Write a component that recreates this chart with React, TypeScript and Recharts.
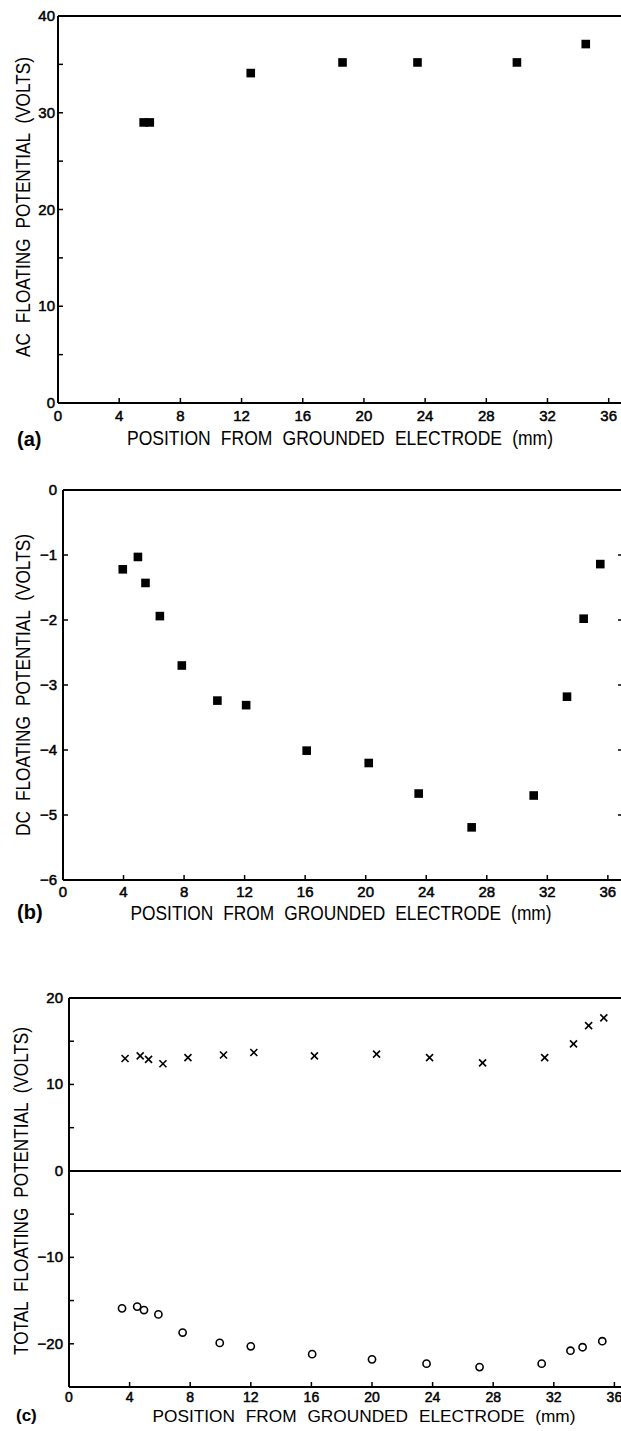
import React from 'react';
import { ScatterChart, Scatter, XAxis, YAxis, ReferenceLine, Label } from 'recharts';

// ---------- shared tick values ----------
const xTicks = [0, 4, 8, 12, 16, 20, 24, 28, 32, 36];

// ---------- panel (a): AC floating potential ----------
const acPos = [5.6, 6.0, 12.6, 18.6, 23.5, 30.0, 34.5];
const acVolts = [29.0, 29.0, 34.1, 35.2, 35.2, 35.2, 37.1];
const acTicks = [0, 5, 10, 15, 20, 25, 30, 35, 40];
const acLabels = [0, 10, 20, 30, 40];

// ---------- panel (b): DC floating potential ----------
const dcPos = [3.95, 4.95, 5.45, 6.4, 7.85, 10.2, 12.1, 16.1, 20.2, 23.5, 27.0, 31.1, 33.3, 34.4, 35.5];
const dcVolts = [-1.22, -1.03, -1.43, -1.94, -2.7, -3.24, -3.31, -4.01, -4.2, -4.67, -5.19, -4.7, -3.18, -1.98, -1.14];
const dcTicks = [-6, -5, -4, -3, -2, -1, 0];
const dcLabels = [-6, -5, -4, -3, -2, -1, 0];
const dcRightTicks = [-5, -4, -3, -2, -1];

// ---------- panel (c): total floating potential ----------
const crossPos = [3.7, 4.7, 5.25, 6.2, 7.85, 10.2, 12.2, 16.2, 20.3, 23.8, 27.3, 31.4, 33.3, 34.3, 35.3];
const crossVolts = [13.0, 13.3, 12.9, 12.4, 13.1, 13.4, 13.7, 13.3, 13.5, 13.1, 12.5, 13.1, 14.7, 16.8, 17.7];
const circlePos = [3.5, 4.5, 4.95, 5.9, 7.5, 9.95, 12.0, 16.05, 20.0, 23.6, 27.1, 31.2, 33.1, 33.9, 35.2];
const circleVolts = [-15.9, -15.7, -16.1, -16.6, -18.7, -19.9, -20.3, -21.2, -21.8, -22.3, -22.7, -22.3, -20.8, -20.4, -19.7];
const totTicks = [-25, -20, -15, -10, -5, 0, 5, 10, 15, 20];
const totLabels = [-20, -10, 0, 10, 20];

const xTitle = 'POSITION FROM GROUNDED ELECTRODE (mm)';

const zip = (xs: number[], ys: number[]) => xs.map((x, i) => ({ x, y: ys[i] }));
const acData = zip(acPos, acVolts);
const dcData = zip(dcPos, dcVolts);
const crossData = zip(crossPos, crossVolts);
const circleData = zip(circlePos, circleVolts);

const FONT = '"Liberation Sans", Arial, sans-serif';
const fmt = (v: number) => (v < 0 ? '\u2212' + Math.abs(v) : String(v));

const tickText = (size: number) => ({ fontFamily: FONT, fontSize: size, fill: '#000', stroke: '#000', strokeWidth: 0.5 });
const titleText = (size: number) => ({ fontFamily: FONT, fontSize: size, fill: '#000', wordSpacing: '6px' }) as React.CSSProperties;

// ---------- custom ticks ----------
const bottomTick = (len: number, base: number, size = 15) => (p: any) => (
  <g>
    <line x1={p.x} x2={p.x} y1={p.y} y2={p.y - len} stroke="#000" strokeWidth={1.5} />
    <text x={p.x} y={p.y + base} textAnchor="middle" {...tickText(size)}>{fmt(p.payload.value)}</text>
  </g>
);
const topTick = (len: number) => (p: any) => (
  <g>
    {len > 0 && <line x1={p.x} x2={p.x} y1={p.y + 1} y2={p.y + 1 + len} stroke="#000" strokeWidth={1.5} />}
  </g>
);
const leftTick = (len: number, gap: number, labels: number[]) => (p: any) => (
  <g>
    <line x1={p.x} x2={p.x + len} y1={p.y} y2={p.y} stroke="#000" strokeWidth={1.5} />
    {labels.includes(p.payload.value) && (
      <text x={p.x - gap} y={p.y + 5} textAnchor="end" {...tickText(15)}>{fmt(p.payload.value)}</text>
    )}
  </g>
);
const rightTick = (len: number) => (p: any) => (
  <line x1={p.x} x2={p.x - len} y1={p.y} y2={p.y} stroke="#000" strokeWidth={1.5} />
);

// ---------- markers ----------
const Square = (p: any) => <rect x={p.cx - 4.3} y={p.cy - 4.3} width={8.6} height={8.6} fill="#000" />;
const Cross = (p: any) => (
  <g stroke="#000" strokeWidth={1.6}>
    <line x1={p.cx - 3.5} y1={p.cy - 3.5} x2={p.cx + 3.5} y2={p.cy + 3.5} />
    <line x1={p.cx - 3.5} y1={p.cy + 3.5} x2={p.cx + 3.5} y2={p.cy - 3.5} />
  </g>
);
const Circle = (p: any) => <circle cx={p.cx} cy={p.cy} r={3.6} fill="none" stroke="#000" strokeWidth={1.6} />;

const axisLine = { stroke: '#000', strokeWidth: 2 };

const titles = (xCenter: number, xBase: number, len: number, tag: string, tagX: number, tagBase: number, size = 20) => () => (
  <g>
    <text x={xCenter} y={xBase} textAnchor="middle" textLength={len} lengthAdjust="spacingAndGlyphs" style={titleText(size)}>{xTitle}</text>
    <text x={tagX} y={tagBase} textAnchor="start" style={{ ...titleText(size), fontWeight: 'bold' }}>{tag}</text>
  </g>
);
const yTitle = (text: string, bx: number, cy: number, len: number) => () => (
  <text x={bx} y={cy} textAnchor="middle" textLength={len} lengthAdjust="spacingAndGlyphs"
    transform={`rotate(-90, ${bx}, ${cy})`} style={titleText(20)}>{text}</text>
);

function PanelA() {
  return (
    <div style={{ position: 'absolute', left: 0, top: 0 }}>
      <ScatterChart width={700} height={460} margin={{ top: 15, right: 76, bottom: 0, left: 0 }}>
        <XAxis type="number" dataKey="x" domain={[0, 37]} ticks={xTicks} interval={0} height={57}
          tickSize={0} tickMargin={0} axisLine={axisLine} tickLine={false} tick={bottomTick(5, 18)}
          allowDataOverflow>
          <Label content={titles(340, 445, 426, '(a)', 17, 446)} />
        </XAxis>
        <XAxis xAxisId="top" orientation="top" type="number" domain={[0, 37]} ticks={xTicks} interval={0} height={1}
          tickSize={0} tickMargin={0} axisLine={axisLine} tickLine={false} tick={topTick(0)} allowDataOverflow />
        <YAxis type="number" dataKey="y" domain={[0, 40]} ticks={acTicks} interval={0} width={58}
          tickSize={0} tickMargin={0} axisLine={axisLine} tickLine={false} tick={leftTick(5, 3, acLabels)}
          allowDataOverflow>
          <Label content={yTitle('AC FLOATING POTENTIAL (VOLTS)', 30, 207, 300)} />
        </YAxis>
        <Scatter data={acData} shape={Square} isAnimationActive={false} />
      </ScatterChart>
    </div>
  );
}

function PanelB() {
  return (
    <div style={{ position: 'absolute', left: 0, top: 440 }}>
      <ScatterChart width={700} height={500} margin={{ top: 49, right: 76, bottom: 0, left: 0 }}>
        <XAxis type="number" dataKey="x" domain={[0, 37]} ticks={xTicks} interval={0} height={60}
          tickSize={0} tickMargin={0} axisLine={axisLine} tickLine={false} tick={bottomTick(5, 17)}
          allowDataOverflow>
          <Label content={titles(341, 480, 421, '(b)', 17, 479)} />
        </XAxis>
        <XAxis xAxisId="top" orientation="top" type="number" domain={[0, 37]} ticks={xTicks.slice(1)} interval={0}
          height={1} tickSize={0} tickMargin={0} axisLine={axisLine} tickLine={false} tick={topTick(5)}
          allowDataOverflow />
        <YAxis type="number" dataKey="y" domain={[-6, 0]} ticks={dcTicks} interval={0} width={63}
          tickSize={0} tickMargin={0} axisLine={axisLine} tickLine={false} tick={leftTick(5, 6, dcLabels)}
          allowDataOverflow>
          <Label content={yTitle('DC FLOATING POTENTIAL (VOLTS)', 30, 245, 302)} />
        </YAxis>
        <YAxis yAxisId="right" orientation="right" type="number" domain={[-6, 0]} ticks={dcRightTicks} interval={0}
          width={1} tickSize={0} tickMargin={0} axisLine={axisLine} tickLine={false} tick={rightTick(5)}
          allowDataOverflow />
        <Scatter data={dcData} shape={Square} isAnimationActive={false} />
      </ScatterChart>
    </div>
  );
}

function PanelC() {
  return (
    <div style={{ position: 'absolute', left: 0, top: 930 }}>
      <ScatterChart width={700} height={501} margin={{ top: 67, right: 25, bottom: 0, left: 0 }}>
        <XAxis type="number" dataKey="x" domain={[0, 40]} ticks={xTicks} interval={0} height={44}
          tickSize={0} tickMargin={0} axisLine={axisLine} tickLine={false} tick={bottomTick(5, 15, 14)}
          allowDataOverflow>
          <Label content={titles(364, 492, 423, '(c)', 16, 491, 17)} />
        </XAxis>
        <XAxis xAxisId="top" orientation="top" type="number" domain={[0, 40]} ticks={xTicks.slice(1)} interval={0}
          height={1} tickSize={0} tickMargin={0} axisLine={axisLine} tickLine={false} tick={topTick(5)}
          allowDataOverflow />
        <YAxis type="number" dataKey="y" domain={[-25, 20]} ticks={totTicks} interval={0} width={69}
          tickSize={0} tickMargin={0} axisLine={axisLine} tickLine={false} tick={leftTick(5, 6, totLabels)}
          allowDataOverflow>
          <Label content={yTitle('TOTAL FLOATING POTENTIAL (VOLTS)', 28, 261, 328)} />
        </YAxis>
        <ReferenceLine y={0} stroke="#000" strokeWidth={2} />
        <Scatter data={crossData} shape={Cross} isAnimationActive={false} />
        <Scatter data={circleData} shape={Circle} isAnimationActive={false} />
      </ScatterChart>
    </div>
  );
}

export default function App() {
  return (
    <div style={{ position: 'absolute', left: 0, top: 0, width: 621, height: 1431, overflow: 'hidden', background: '#fff' }}>
      <PanelA />
      <PanelB />
      <PanelC />
    </div>
  );
}
